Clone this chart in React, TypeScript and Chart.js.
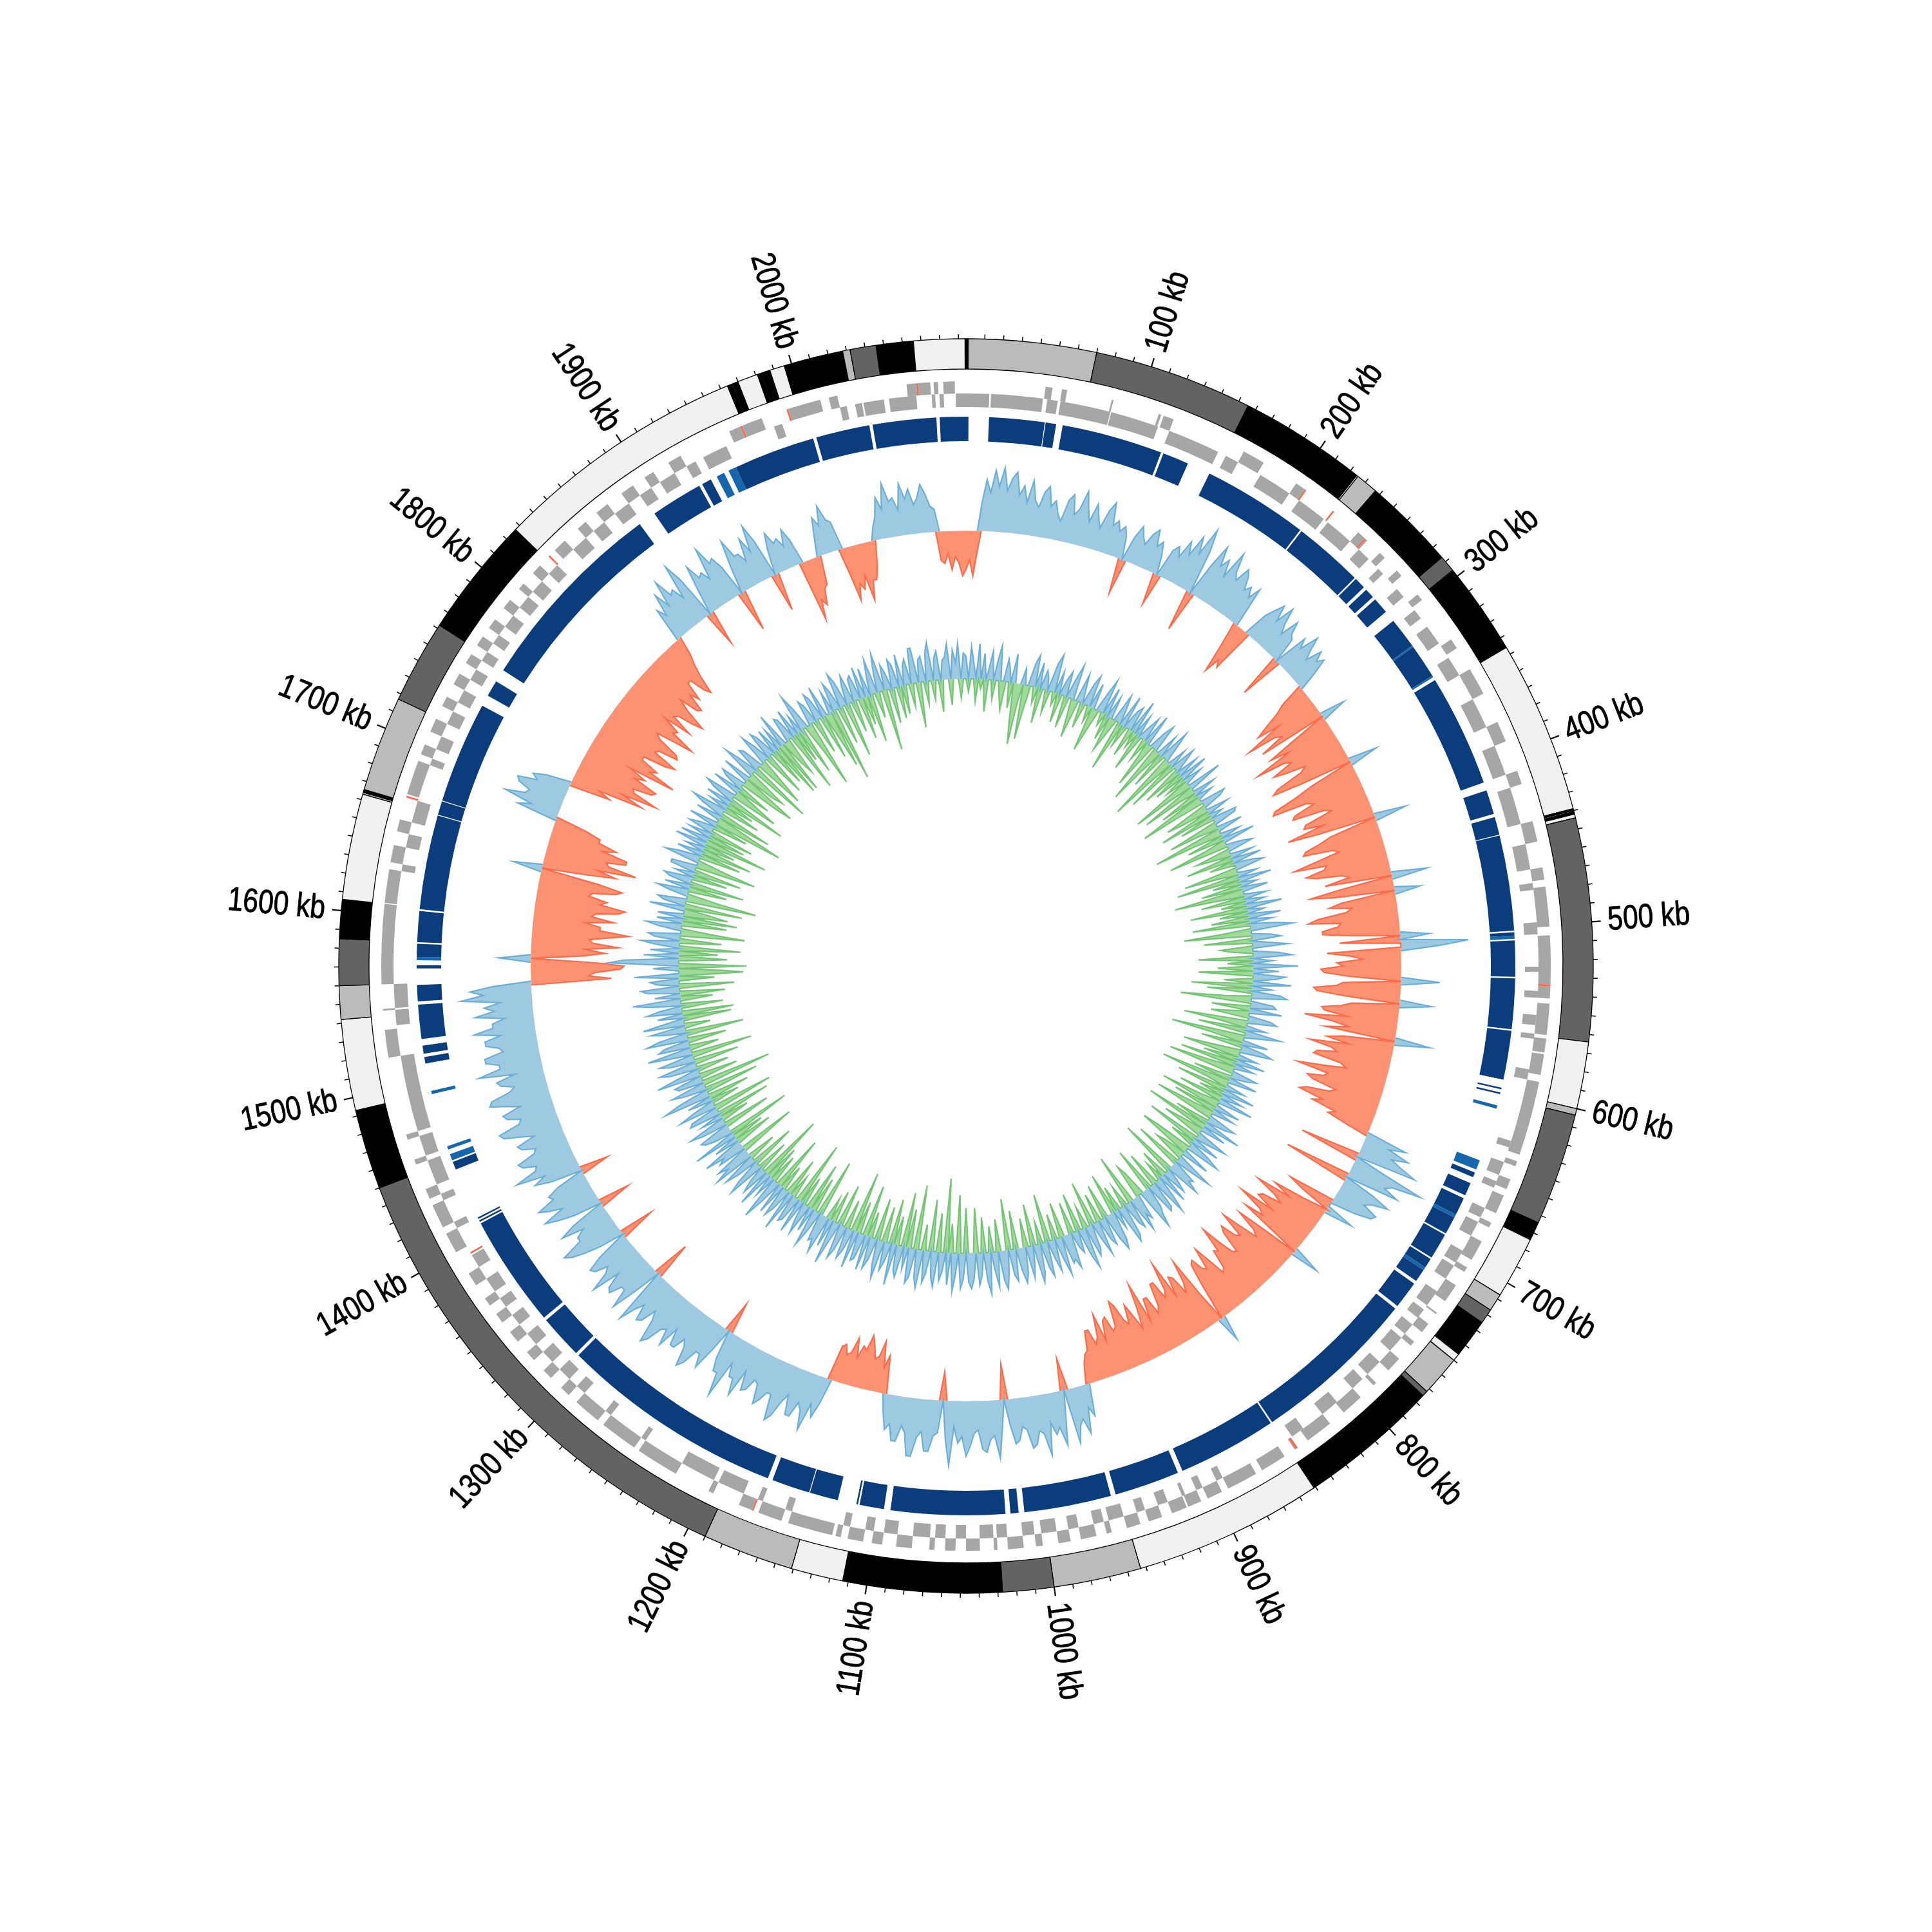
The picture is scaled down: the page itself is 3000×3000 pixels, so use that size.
import React, { useEffect, useRef } from 'react';
import { Chart, registerables } from 'chart.js';

Chart.register(...registerables);

// ---------------- DATA ----------------
const GENOME_KB = 2094;

const majorTickKb = [100, 200, 300, 400, 500, 600, 700, 800, 900, 1000, 1100, 1200, 1300, 1400, 1500, 1600, 1700, 1800, 1900, 2000];
const minorTickStepKb = 10;

// [start kb, end kb, stain]
const bands: [number, number, string][] = [
  [0, 1.2, 'gpos100'], [1.2, 70, 'gpos25'], [70, 155.5, 'gpos50'],
  [155.5, 156.3, 'gpos100'], [156.3, 156.6, 'gneg'], [156.6, 157.5, 'gpos100'], [157.5, 157.8, 'gneg'], [157.8, 223, 'gpos100'],
  [223, 223.4, 'gneg'], [223.4, 224.2, 'gpos100'], [224.2, 225, 'gneg'],
  [225, 237, 'gpos25'], [237, 287, 'gpos100'], [287, 296, 'gpos50'],
  [296, 296.5, 'gneg'], [296.5, 297.5, 'gpos100'], [297.5, 298, 'gneg'], [298, 346, 'gpos100'],
  [346, 439, 'gneg'], [439, 440, 'gpos100'], [440, 440.6, 'gneg'], [440.6, 442, 'gpos100'], [442, 444, 'gneg'],
  [444, 564, 'gpos50'], [564, 600, 'gneg'], [600, 603.5, 'gpos25'], [603.5, 664, 'gpos50'], [664, 674, 'gpos100'],
  [674, 707.5, 'gneg'], [707.5, 717, 'gpos25'], [717, 725, 'gpos50'], [725, 746, 'gpos100'], [746, 750, 'gneg'],
  [750, 772, 'gpos25'], [772, 775, 'gpos50'], [775, 851, 'gpos100'], [851, 953, 'gneg'], [953, 1000, 'gpos25'],
  [1000, 1027.6, 'gpos50'], [1027.6, 1113, 'gpos100'], [1113, 1141, 'gneg'], [1141, 1190, 'gpos25'],
  [1190, 1450, 'gpos50'], [1450, 1493, 'gpos100'], [1493, 1542, 'gneg'], [1542, 1560, 'gpos25'],
  [1560, 1585, 'gpos50'], [1585, 1606, 'gpos100'], [1606, 1663, 'gneg'],
  [1663, 1664, 'gpos25'], [1664, 1664.6, 'gpos100'], [1664.6, 1665, 'gpos25'], [1665, 1665.6, 'gpos100'],
  [1665.6, 1717, 'gpos25'], [1717, 1762, 'gpos50'], [1762, 1827, 'gpos100'], [1827, 1964, 'gneg'],
  [1964, 1965, 'gpos100'], [1965, 1965.4, 'gneg'], [1965.4, 1966.5, 'gpos100'], [1966.5, 1967, 'gneg'],
  [1967, 1968.2, 'gpos100'], [1968.2, 1968.6, 'gneg'], [1968.6, 1970, 'gpos100'], [1970, 1981, 'gneg'],
  [1981, 1983, 'gpos100'], [1983, 1983.5, 'gneg'], [1983.5, 1986, 'gpos100'], [1986, 1986.4, 'gneg'], [1986.4, 1988, 'gpos100'],
  [1988, 1996, 'gneg'], [1996, 2028, 'gpos100'], [2028, 2032, 'gpos25'], [2032, 2046, 'gpos50'],
  [2046, 2066, 'gpos100'], [2066, 2093.5, 'gneg'], [2093.5, 2094, 'gpos100'],
];

// forward-strand genes (outer row), [start kb, end kb]
const fwdGenes: [number, number][] = [
  [45.5, 49.5], [55, 58], [84, 85], [112, 113.5], [115, 121], [165, 178], [200, 206], [245, 252], [262, 266], [276, 280],
  [294, 298], [326, 332], [346, 362], [380, 392], [410, 418], [440, 452], [467, 474], [478, 501], [506, 534], [535, 542],
  [545, 563], [565, 573], [574, 586], [590, 617], [617, 633], [637, 640], [648, 654], [658, 669], [675, 678], [687, 699],
  [704, 707], [716, 727], [735, 736], [743, 749], [756, 759], [769, 778], [788, 790], [800, 813], [823, 839], [846, 848],
  [855, 870], [874, 892], [896, 905], [909, 917], [918, 927], [933, 941], [946, 954], [963, 966], [972, 981], [987, 994],
  [1003, 1007], [1014, 1023], [1029, 1031], [1039, 1047], [1053, 1059], [1065, 1068], [1078, 1087], [1095, 1101], [1106, 1115],
  [1119, 1122], [1124, 1150], [1154, 1168], [1172, 1180], [1196, 1199], [1220, 1245], [1248, 1270], [1274, 1290], [1296, 1302],
  [1310, 1316], [1324, 1330], [1338, 1345], [1352, 1358], [1364, 1369], [1378, 1386], [1400, 1412], [1416, 1430], [1434, 1440],
  [1455, 1458], [1470, 1473], [1518, 1534], [1545, 1546], [1560, 1606], [1606.5, 1626], [1630, 1640], [1648, 1655], [1670, 1690],
  [1694, 1700], [1708, 1716], [1724, 1730], [1738, 1745], [1752, 1758], [1764, 1770], [1776, 1782], [1790, 1796], [1804, 1808],
  [1816, 1822], [1834, 1842], [1852, 1858], [1866, 1874], [1884, 1892], [1900, 1906], [1916, 1924], [1955, 1975], [1991, 2010],
  [2015, 2020], [2060, 2073.6], [2075.5, 2078], [2081, 2087.6],
];
// reverse-strand genes (inner row)
const revGenes: [number, number][] = [
  [0, 13.6], [14.6, 45], [47.5, 53.7], [55.3, 85], [85.5, 114], [121, 152], [157, 165], [180, 200], [207, 225], [228, 245],
  [252, 260], [268, 272], [284, 290], [300, 306], [312, 324], [334, 346], [362, 380], [392, 410], [418, 440], [452, 467],
  [475, 479], [498, 505], [524, 527], [538, 542], [552, 558], [563, 566], [584, 590], [627, 631], [640, 648], [652, 656],
  [669, 675], [678, 687], [697, 705], [707, 716], [725, 735], [738, 744], [749, 756], [759, 769], [778, 788], [792, 800],
  [812, 823], [837, 845], [892, 896], [905, 909], [916, 918], [927, 933], [941, 946], [954, 963], [966, 972], [981, 987],
  [994, 1003], [1007, 1014], [1023, 1029], [1031, 1039], [1047, 1053], [1059, 1065], [1068, 1078], [1087, 1095], [1101, 1106],
  [1115, 1119], [1150, 1154], [1168, 1171], [1180, 1196], [1199, 1220], [1245, 1248], [1270, 1274], [1290, 1296], [1302, 1310],
  [1316, 1324], [1330, 1338], [1345, 1352], [1358, 1364], [1369, 1378], [1386, 1394], [1412, 1416], [1430, 1434], [1440, 1455],
  [1458, 1470], [1473, 1518], [1536, 1545], [1546, 1560], [1626, 1630], [1640, 1648], [1655, 1668], [1690, 1694], [1700, 1708],
  [1716, 1724], [1730, 1738], [1745, 1752], [1758, 1764], [1770, 1776], [1782, 1790], [1796, 1804], [1808, 1816], [1822, 1829],
  [1842, 1852], [1858, 1866], [1874, 1884], [1892, 1900], [1906, 1916], [1924, 1930], [1935, 1950], [1980, 1985], [2020, 2024],
  [2029, 2033], [2034, 2046], [2049, 2065], [2074, 2076], [2078.5, 2081], [2088, 2094],
];
const fwdRna: [number, number][] = [
  [206, 207], [226, 227], [250, 251], [534, 535], [846, 847.5], [1171, 1172], [1668, 1669], [1829, 1830], [1962, 1963], [1990, 1991], [2065.6, 2066.6],
];
const revRna: [number, number][] = [[1395, 1396]];

// homology blocks (dark) and light blocks
const homologyBlocks: [number, number][] = [
  [0, 1.5], [14, 48], [48.5, 55], [59, 121], [122.5, 138.6], [153, 218], [219, 262], [263, 270], [272, 278], [280, 290],
  [297, 316], [317, 338], [341, 410], [415, 430], [432, 443], [443.5, 502], [503, 505], [508, 530], [531, 562], [563, 593],
  [598, 599], [601, 602], [652, 655], [659, 667], [669, 680], [682, 693], [694, 710], [711, 717], [719, 727], [729, 746],
  [748, 850], [851, 912], [915, 955], [958, 1011.5], [1015, 1020], [1023, 1093], [1097, 1112], [1113, 1114], [1125.5, 1143],
  [1143.5, 1167], [1170, 1308], [1310, 1337], [1339, 1408], [1409, 1410], [1411, 1412], [1444, 1449], [1511, 1515], [1517, 1522],
  [1526, 1547], [1549, 1559], [1569, 1571], [1576, 1584], [1585, 1604], [1605, 1663], [1663.5, 1672], [1672.5, 1735], [1742, 1752],
  [1760, 1882], [1893, 1925], [1927, 1933], [1950, 2000], [2002, 2035], [2037, 2076], [2078, 2094],
];
const homologyLight: [number, number][] = [
  [316, 317], [338, 339], [505, 507], [609, 611], [644, 650], [680, 682], [717, 719], [1450, 1454], [1457, 1459], [1492, 1494],
  [1574, 1576], [1937, 1942], [1945, 1950],
];

// GC skew, one value per 1/720 of the genome (+ outward, - inward)
const gcSkew = [
  -60, -45, -70, -35, 45, 80, 60, 95, 70, 100, 65, 85, 95, 60, 75, 50, 85, 55, 45, 70,
  80, 50, 60, 40, 30, 65, 75, 45, 55, 85, 60, 40, 70, 50, 35, 65, 80, 45, 55, 40,
  50, 35, -55, 40, 60, 45, 35, 55, 65, 40, 50, 30, -50, 45, 55, 40, 70, 50, 85, 60,
  105, 70, -65, 55, 90, 60, 75, 50, 95, 65, 55, 80, 70, 50, 60, 45, 65, -40, -85, -60,
  -70, 40, 55, 70, 45, 75, 50, 35, 65, 45, 40, -70, 55, 40, 70, 50, 35, 60, 45, 55,
  30, -40, -55, -80, -100, -65, -125, -80, -70, -110, 40, -60, -105, -75, -135, -90, -80, -115, -95, -65,
  -75, -120, -130, -85, 45, -70, -100, -140, -145, -90, -80, -115, -120, -70, -60, -105, -110, -80, -140, -95,
  50, -75, -95, -120, -125, -80, -70, -110, -145, -95, -100, -130, -115, -75, -65, -105, 55, -80, -130, -95,
  40, -85, -105, -70, -80, -125, -140, -90, -95, -120, -120, -75, 45, -95, 105, 60, -115, -80, -60, -100,
  -90, -125, -120, -85, 60, -90, -100, -135, -130, -85, 50, -75, -90, -120, -115, -80, -145, -100, -75, -110,
  55, -80, -105, -70, -130, -95, -85, -115, -120, -75, -65, -100, -140, -90, -95, -120, -110, -70, -80, -115,
  -125, -85, -100, -60, -70, -40, 65, 40, 75, 50, 70, 95, -95, 45, 115, 70, 60, 85, -105, 50,
  80, 55, 45, 70, 65, 40, -75, -50, 45, -40, -90, -60, -115, -80, -65, -95, -100, -70, -125, -85,
  -75, -105, 45, -60, -105, -70, -60, -90, -120, -80, -85, -110, -100, -65, -70, -95, -125, -85, -90, -60,
  -55, -85, -110, -75, -80, -100, -95, -60, 40, -50, -115, -80, -65, -95, -100, -70, -130, -85, -75, -105,
  -105, -70, -60, -90, -90, -55, -120, -80, -50, -75, -95, -65, -75, -100, -110, -70, -65, -90, -85, -55,
  -100, -65, -55, -80, -80, -50, -45, -30, 50, 35, 75, 50, 60, 85, -50, 40, 85, 55, 65, 45,
  95, 60, 55, 75, 80, 50, 45, 65, 70, 40, -55, 45, 90, 55, 60, 80, 75, 45, 50, 70,
  85, 55, 65, 40, 100, 60, -45, 50, 55, 80, 80, 50, 60, 90, 90, 55, 45, 70, 70, 45,
  55, 30, -60, -40, -80, -55, -50, -70, -85, -60, -65, -45, -75, -50, -45, -60, -55, 40, 65, 45,
  90, 60, 50, 75, 75, 45, 60, 85, 95, 55, 55, 70, 80, 50, 45, 65, 70, 40, 85, 60,
  60, 40, 100, 65, 65, 45, -50, 40, 75, 55, 55, 80, 90, 60, 50, 70, 70, 45, 80, 55,
  60, 85, 95, 60, 45, 70, 75, 50, 65, 90, -60, 45, 85, 55, 55, 75, 70, 45, 90, 60,
  50, 70, 75, 50, -55, 40, 65, 85, 95, 60, 60, 45, 80, 55, -50, 45, 70, 90, 55, 75,
  90, 60, 65, 45, -45, 50, 75, 55, 100, 65, 60, 80, 85, 55, 50, 70, 75, 45, 65, 90,
  95, 60, 55, 75, 80, 50, 70, 95, 90, 60, 50, 70, 75, 45, 100, 65, 65, 85, 85, 55,
  60, 80, 80, 55, 95, 65, 65, 45, 90, 60, 75, 50, 110, 75, 95, 60, -125, -90, -100, -140,
  -145, -100, 50, -80, -115, -85, -135, -95, -90, -120, -150, -105, -105, -80, -125, -90, -95, -130, -140, -100,
  -110, -80, -85, -120, -130, -90, 45, -70, -115, -85, -145, -100, -95, -125, -125, -85, -105, -75, -75, -50,
  65, 45, 90, 60, 55, 75, 80, 50, 60, 40, -65, -45, -115, -80, -135, -95, -90, -120, -125, -85,
  -100, -70, -145, -100, -110, -80, -80, -115, -130, -90, -95, -125, -120, -85, -75, -105, -135, -95, -100, -70,
  -115, -80, -85, -110, -125, -90, -70, -100, -105, -75, -90, -60, -60, -85, -95, -65, -45, -30, 55, 40,
  75, 50, 90, 60, 65, 45, 100, 70, -55, 40, 80, 55, 60, 45, 95, 65, 70, 50, -65, 45,
  85, 55, 55, 40, 75, 50, 90, 60, -60, 40, 65, 45, 50, 35, 60, 40, -95, -65, -75, -50,
  -45, 30, 60, 45, 75, 50, 45, -40, -85, -60, -70, -50, -90, -60, -60, -40, 20, 35, 65, 45,
  85, 55, 60, 40, 80, 55, 70, 45, 55, 75, 60, 40, 35, -45, -50, -35, -60, -40, -50, -70,
];

// GC content deviation, one value per 1/720 of the genome (+ outward, - inward)
const gcContent = [
  35, -20, 50, 25, -35, 55, -15, 40, -50, 20, 45, -30, 30, 55, -25, -45, 35, 20, -40, 45,
  -60, -95, -30, 25, -85, -40, 35, 50, -25, 40, -55, 30, 20, -35, 45, 60, -20, 35, -45, 25,
  40, -50, 30, 55, -30, -60, 45, 20, -40, 35, 50, -25, 40, -70, -35, 30, 55, -20, 45, -40,
  35, -55, -30, 45, 25, -80, 50, -35, 30, 40, -45, 55, -25, 35, -60, 20, 40, -35, 50, -30,
  -75, 30, 45, -95, -40, 35, -60, 50, 25, -110, -45, 30, -85, 40, 20, -65, 35, -50, 45, -35,
  30, -100, -40, 55, -90, -30, 35, -65, 25, -105, -50, 40, 30, -70, -45, 35, -85, 20, -55, 40,
  35, -80, -30, 40, -110, -45, 30, -60, 50, -35, -95, 25, 40, -55, -30, 35, -75, 45, -40, 30,
  45, -85, -35, 30, -100, 50, -45, 25, -65, 40, -110, -50, 35, -70, 30, -40, 55, -90, 25, -45,
  50, -60, 35, -90, 40, 65, -45, -105, 30, 45, -75, 25, 55, -50, -35, 40, 60, -85, 30, -40,
  70, -55, 40, -85, 50, 35, -45, 60, -95, 30, -70, 45, 55, -40, -110, 35, 40, -60, 50, -30,
  -60, 35, 45, -100, -40, 30, -75, 55, 25, -115, -50, 40, -65, 35, 50, -45, -90, 30, -55, 45,
  -90, 30, -45, -105, 40, 25, -60, 45, -110, -35, 30, -80, 50, -40, 35, -70, 55, -30, -95, 40,
  -70, 35, -50, -95, 45, 30, -55, 60, -100, 40, -35, -65, 50, 25, -85, 45, -40, 35, 55, -60,
  -85, 45, -35, -50, 60, 30, -75, 40, 35, 55, -90, 25, 40, -45, 50, -30, 35, 60, -55, 45,
  50, -70, 35, 45, 65, -40, -55, 40, 30, 55, -80, 45, 35, -35, 50, 60, -40, 30, -65, 45,
  60, 40, -55, 45, 35, -45, 55, 30, -70, 40, 50, -35, 65, 45, -60, 35, 25, -50, 55, 40,
  45, -55, 60, 35, -40, 50, 30, -75, 55, 40, -35, 45, 60, -65, 30, 50, -45, 40, 55, 35,
  -60, 50, 40, -80, 35, 60, 45, -50, 55, 30, -40, 65, 45, -55, 35, 50, -70, 40, 55, 45,
  -70, 40, 55, -90, 35, 60, -45, 50, -115, 30, 45, -60, 55, 40, -80, 35, 50, -40, 60, 45,
  -100, 45, 55, -60, 35, -85, 50, 40, -45, 65, -70, 30, 45, -55, 60, 40, -65, 35, 50, -40,
  55, -80, 40, 45, -50, 60, -95, 35, 50, -45, 40, 55, -65, 30, 70, -50, 45, -35, 60, 40,
  45, -90, 35, 60, -55, 40, -75, 50, 30, -45, 55, -100, 40, 45, -35, 65, -60, 35, 50, -40,
  50, -85, 40, 70, -45, 35, -55, 60, -105, 45, 30, -50, 60, 40, -70, 35, 55, -45, 65, 40,
  55, -90, 45, 35, 65, -60, 40, -50, 70, -100, 30, 45, 50, -75, 40, 60, -45, 35, -85, 50,
  45, -95, 60, 35, -45, 40, -65, 75, 50, -85, 35, 55, -110, 40, 45, -60, 70, 35, -50, 45,
  60, -70, 40, 55, -95, 35, 70, -45, 50, 40, -60, 65, 45, -90, 35, 55, -40, 65, 30, -75,
  40, -80, 55, 35, -65, 45, 75, -50, 40, -70, 50, 60, -85, 35, 45, -55, 70, -100, -65, 40,
  -105, 110, 85, -75, 55, -60, 45, -95, 35, 60, -65, 40, 50, -100, -45, 35, 55, -70, 40, -85,
  40, -70, -40, 55, -90, 35, 45, -110, -50, 30, 50, -60, 40, -85, 35, 45, -55, 30, -75, 40,
  40, -95, -45, 55, 35, -65, 40, -80, 30, -50, 50, -100, 45, -60, 35, -70, 40, 25, -55, 45,
  -110, -60, 40, -85, 35, 55, -60, 30, -45, 40, -95, 35, 50, -75, -40, 45, -55, 30, 40, -65,
  -90, 45, -50, -65, 55, 30, -100, 40, 35, -80, -45, 50, 30, -70, 45, 35, -60, 40, -85, 35,
  -85, 55, -40, -60, 40, 35, -95, 45, -50, 30, -75, 60, 35, -45, -105, 40, 30, -55, 45, 35,
  -70, 50, -45, -90, 35, -115, 45, 30, -60, 55, 40, -85, 30, 45, -50, 35, 40, -65, 50, -45,
  45, -75, 30, 55, -40, 35, 60, -95, 40, 25, -55, 45, 35, -50, 50, -45, 30, 40, -35, 55,
  55, -70, 35, 40, -35, 45, 60, -30, 35, 45, -50, 30, 35, 55, -40, 45, 25, 55, -30, 40,
];

// ---------------- STYLE / GEOMETRY ----------------
const STAIN_COLORS: Record<string, string> = { gneg: '#f0f0f0', gpos25: '#bbbbbb', gpos50: '#636363', gpos100: '#000000' };
const GENE_COLOR = '#a6a6a6';
const RNA_COLOR = '#f5694a';
const HOMOLOGY_DARK = '#0b3d7d';
const HOMOLOGY_LIGHT = '#1766ab';
const CLEAR = 'rgba(0,0,0,0)';

const SKEW_BASE = 676;
const GC_BASE = 446;
const OUTER_R = 988;
const INNER_R = 815;

type Seg = { s: number; e: number; c: string };

function paint(layers: Seg[]) {
  let segs: Seg[] = [{ s: 0, e: GENOME_KB, c: CLEAR }];
  for (const iv of layers) {
    const s0 = Math.max(0, iv.s);
    const e0 = Math.min(GENOME_KB, iv.e);
    if (e0 <= s0) continue;
    const out: Seg[] = [];
    for (const sg of segs) {
      if (e0 <= sg.s || s0 >= sg.e) { out.push(sg); continue; }
      if (sg.s < s0) out.push({ s: sg.s, e: s0, c: sg.c });
      out.push({ s: Math.max(sg.s, s0), e: Math.min(sg.e, e0), c: iv.c });
      if (sg.e > e0) out.push({ s: e0, e: sg.e, c: sg.c });
    }
    segs = out;
  }
  return { data: segs.map((g) => g.e - g.s), colors: segs.map((g) => g.c) };
}

const toSegs = (list: [number, number][], c: string): Seg[] => list.map(([s, e]) => ({ s, e, c }));

function ringConfig(): any {
  const majorSet = new Set(majorTickKb);
  const minorKb: number[] = [];
  for (let k = minorTickStepKb; k < GENOME_KB; k += minorTickStepKb) minorKb.push(k);

  const majorRing = paint(majorTickKb.map((k) => ({ s: k - 0.36, e: k + 0.36, c: '#000' })));
  const allTickRing = paint(minorKb.map((k) => (majorSet.has(k) ? { s: k - 0.36, e: k + 0.36, c: '#000' } : { s: k - 0.26, e: k + 0.26, c: '#000' })));
  const bandRing = paint(bands.map(([s, e, st]) => ({ s, e, c: STAIN_COLORS[st] })));
  const fwdRing = paint([...toSegs(fwdGenes, GENE_COLOR), ...toSegs(fwdRna, RNA_COLOR)]);
  const revRing = paint([...toSegs(revGenes, GENE_COLOR), ...toSegs(revRna, RNA_COLOR)]);
  const homRing = paint([...toSegs(homologyBlocks, HOMOLOGY_DARK), ...toSegs(homologyLight, HOMOLOGY_LIGHT)]);

  const ds = (label: string, ring: { data: number[]; colors: string[] }, weight: number, extra: any = {}) => ({
    label, data: ring.data, backgroundColor: ring.colors, borderWidth: 0, weight, ...extra,
  });
  const spacer = (label: string, weight: number) => ({ label, data: [GENOME_KB], backgroundColor: [CLEAR], borderWidth: 0, weight });

  const labelPlugin = {
    id: 'kbLabels',
    afterDatasetsDraw(chart: any) {
      const ctx: CanvasRenderingContext2D = chart.ctx;
      const arc = chart.getDatasetMeta(0).data[0];
      if (!arc) return;
      const cx = arc.x;
      const cy = arc.y;
      const size = 52;
      ctx.save();
      ctx.font = `${size}px monospace`;
      const w0 = ctx.measureText('500 kb').width;
      ctx.font = `${size}px "Liberation Sans Narrow", monospace`;
      const w1 = ctx.measureText('500 kb').width;
      let family = '"Liberation Sans Narrow"';
      let sx = 1;
      if (Math.abs(w1 - w0) < 0.5) { family = '"Liberation Sans", Arial, sans-serif'; sx = 0.82; }
      ctx.font = `${size}px ${family}`;
      ctx.fillStyle = '#000';
      ctx.strokeStyle = '#000';
      ctx.lineWidth = 0.9;
      ctx.textBaseline = 'middle';
      const r = arc.outerRadius + 11;
      majorTickKb.forEach((kb) => {
        const deg = (kb / GENOME_KB) * 360;
        const a = (deg * Math.PI) / 180 - Math.PI / 2;
        const text = `${kb} kb`;
        ctx.save();
        ctx.translate(cx, cy);
        if (deg < 180) {
          ctx.rotate(a);
          ctx.translate(r, 0);
          ctx.scale(sx, 1);
          ctx.textAlign = 'left';
        } else {
          ctx.rotate(a + Math.PI);
          ctx.translate(-r, 0);
          ctx.scale(sx, 1);
          ctx.textAlign = 'right';
        }
        ctx.fillText(text, 0, 0);
        ctx.strokeText(text, 0, 0);
        ctx.restore();
      });
      ctx.restore();
    },
  };

  return {
    type: 'doughnut',
    data: {
      labels: [],
      datasets: [
        ds('major ticks', majorRing, 7),
        ds('ticks', allTickRing, 7),
        ds('bands', bandRing, 47, { borderColor: '#000', borderWidth: 1.3 }),
        spacer('gap1', 19),
        ds('forward CDS', fwdRing, 19),
        ds('reverse CDS', revRing, 21),
        spacer('gap2', 15),
        ds('homology', homRing, 38),
      ],
    },
    options: {
      responsive: false,
      animation: false,
      devicePixelRatio: 1,
      events: [],
      radius: OUTER_R,
      cutout: `${(INNER_R / OUTER_R) * 100}%`,
      layout: { padding: 0 },
      plugins: { legend: { display: false }, tooltip: { enabled: false }, title: { display: false } },
    },
    plugins: [labelPlugin],
  };
}

function trackConfig(values: number[], base: number, posFill: string, posLine: string, negFill: string, negLine: string, name: string): any {
  const n = values.length;
  const binKb = GENOME_KB / n;
  const labels = values.map((_, i) => `${(i * binKb).toFixed(1)} kb`);

  const posPart = values.map((v) => base + Math.max(v, 0));
  const negPart = values.map((v) => base + Math.min(v, 0));
  const strokeOf = (sign: 1 | -1) =>
    values.map((v, i) => {
      const on = (x: number) => (sign > 0 ? x > 0 : x < 0);
      const prev = values[(i - 1 + n) % n];
      const next = values[(i + 1) % n];
      if (on(v) || on(prev) || on(next)) return base + (on(v) ? v : 0);
      return null;
    });

  const fillDs = (label: string, data: number[], color: string) => ({
    label, data, backgroundColor: color, borderWidth: 0, borderColor: CLEAR,
    fill: { value: base }, pointRadius: 0, pointHoverRadius: 0, pointHitRadius: 0, tension: 0,
  });
  const lineDs = (label: string, data: (number | null)[], color: string) => ({
    label, data, borderColor: color, borderWidth: 2.2, backgroundColor: CLEAR, fill: false,
    pointRadius: 0, pointHoverRadius: 0, pointHitRadius: 0, tension: 0, spanGaps: false,
  });

  return {
    type: 'radar',
    data: {
      labels,
      datasets: [
        lineDs(`${name} + line`, strokeOf(1), posLine),
        lineDs(`${name} - line`, strokeOf(-1), negLine),
        fillDs(`${name} +`, posPart, posFill),
        fillDs(`${name} -`, negPart, negFill),
      ],
    },
    options: {
      responsive: false,
      animation: false,
      devicePixelRatio: 1,
      events: [],
      layout: { padding: 0 },
      plugins: { legend: { display: false }, tooltip: { enabled: false }, title: { display: false } },
      scales: {
        r: {
          min: 0,
          max: 1500,
          startAngle: 0,
          ticks: { display: false },
          grid: { display: false, circular: true },
          angleLines: { display: false },
          pointLabels: { display: false },
        },
      },
    },
  };
}

const canvasStyle: React.CSSProperties = { position: 'absolute', left: 0, top: 0, width: 3000, height: 3000 };

export default function App() {
  const ringRef = useRef<HTMLCanvasElement>(null);
  const skewRef = useRef<HTMLCanvasElement>(null);
  const gcRef = useRef<HTMLCanvasElement>(null);

  useEffect(() => {
    document.body.style.margin = '0';
    const c1 = new Chart(ringRef.current as HTMLCanvasElement, ringConfig());
    const c2 = new Chart(skewRef.current as HTMLCanvasElement, trackConfig(gcSkew, SKEW_BASE, '#9ecae1', '#6baed6', '#fc9272', '#fb6a4a', 'GC skew'));
    const c3 = new Chart(gcRef.current as HTMLCanvasElement, trackConfig(gcContent, GC_BASE, '#9ecae1', '#6baed6', '#a1d99b', '#74c476', 'GC content'));
    return () => {
      c1.destroy();
      c2.destroy();
      c3.destroy();
    };
  }, []);

  return (
    <div style={{ position: 'relative', width: 3000, height: 3000, background: '#ffffff' }}>
      <canvas ref={ringRef} width={3000} height={3000} style={canvasStyle} />
      <canvas ref={skewRef} width={3000} height={3000} style={canvasStyle} />
      <canvas ref={gcRef} width={3000} height={3000} style={canvasStyle} />
    </div>
  );
}
